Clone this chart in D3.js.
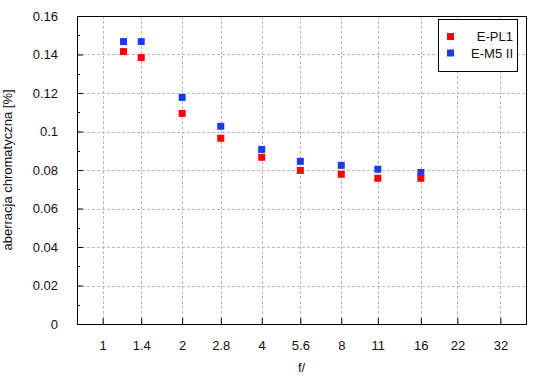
<!DOCTYPE html>
<html>
<head>
<meta charset="utf-8">
<script src="https://cdn.jsdelivr.net/npm/d3@7"></script>
<style>
  body { margin: 0; background: #fff; }
  text { font-family: "Liberation Sans", Arial, sans-serif; fill: #111; }
</style>
</head>
<body>
<div class="canvas"></div>
<script>
// data
const fStops = [1.2, 1.4, 2, 2.8, 4, 5.6, 8, 11, 16];
const eplValues = [0.1415, 0.1384, 0.1094, 0.0965, 0.0866, 0.0798, 0.0778, 0.0757, 0.0757];
const em5Values = [0.1467, 0.1467, 0.1177, 0.1027, 0.0907, 0.0845, 0.0824, 0.0804, 0.0787];
const seriesNames = ['E-PL1', 'E-M5 II'];
const seriesColors = ['#ff0000', '#1a3ce6'];
const xTicks = [1, 1.4, 2, 2.8, 4, 5.6, 8, 11, 16, 22, 32];
const yTicks = [0, 0.02, 0.04, 0.06, 0.08, 0.1, 0.12, 0.14, 0.16];
const yMinor = [0.01, 0.03, 0.05, 0.07, 0.09, 0.11, 0.13, 0.15];

const margin = { top: 16, right: 24, bottom: 56, left: 77 };
const graphWidth = 550 - margin.left - margin.right;
const graphHeight = 380 - margin.top - margin.bottom;

const svg = d3.select('.canvas')
  .append('svg')
  .attr('width', 550)
  .attr('height', 380);

const graph = svg.append('g')
  .attr('transform', `translate(${margin.left}, ${margin.top})`);

const x = d3.scaleLog().domain([0.8, 40]).range([0, graphWidth]);
const y = d3.scaleLinear().domain([0, 0.16]).range([graphHeight, 0]);

// grid
graph.append('g')
  .selectAll('line.gx')
  .data(xTicks)
  .enter().append('line')
    .attr('x1', d => Math.round(x(d)) + 0.5)
    .attr('x2', d => Math.round(x(d)) + 0.5)
    .attr('y1', 0)
    .attr('y2', graphHeight)
    .attr('stroke', '#bbb')
    .attr('stroke-dasharray', '3,2');

graph.append('g')
  .selectAll('line.gy')
  .data(yTicks.slice(1, -1))
  .enter().append('line')
    .attr('x1', 0)
    .attr('x2', graphWidth)
    .attr('y1', d => Math.round(y(d)) + 0.5)
    .attr('y2', d => Math.round(y(d)) + 0.5)
    .attr('stroke', '#bbb')
    .attr('stroke-dasharray', '3,2');

// axes (ticks pointing inward)
const xAxis = d3.axisBottom(x)
  .tickValues(xTicks)
  .tickFormat(d => d)
  .tickSizeInner(-6)
  .tickSizeOuter(0)
  .tickPadding(17);

const yAxis = d3.axisLeft(y)
  .tickValues(yTicks)
  .tickFormat(d => d)
  .tickSizeInner(-6)
  .tickSizeOuter(0)
  .tickPadding(19);

const xAxisGroup = graph.append('g')
  .attr('transform', `translate(0, ${graphHeight})`)
  .call(xAxis);

const yAxisGroup = graph.append('g')
  .call(yAxis);

[xAxisGroup, yAxisGroup].forEach(g => {
  g.select('.domain').remove();
  g.selectAll('line').attr('stroke', '#000');
  g.selectAll('text').style('font-size', '13px').attr('fill', '#111');
});

graph.append('g')
  .selectAll('line')
  .data(yMinor)
  .enter().append('line')
    .attr('x1', 0)
    .attr('x2', 3)
    .attr('y1', d => Math.round(y(d)) + 0.5)
    .attr('y2', d => Math.round(y(d)) + 0.5)
    .attr('stroke', '#000');

// border
graph.append('rect')
  .attr('x', 0.5)
  .attr('y', 0.5)
  .attr('width', graphWidth)
  .attr('height', graphHeight)
  .attr('fill', 'none')
  .attr('stroke', '#000');

// points: E-M5 II first, E-PL1 drawn on top
const series = [eplValues, em5Values];
[1, 0].forEach(s => {
  graph.append('g')
    .selectAll('rect')
    .data(series[s])
    .enter().append('rect')
      .attr('x', (d, i) => x(fStops[i]) - 3.5)
      .attr('y', d => y(d) - 3.5)
      .attr('width', 7)
      .attr('height', 7)
      .attr('fill', seriesColors[s]);
});

// legend
const legend = svg.append('g');
legend.append('rect')
  .attr('x', 438.5)
  .attr('y', 19.5)
  .attr('width', 79)
  .attr('height', 52)
  .attr('fill', '#fff')
  .attr('stroke', '#000');

seriesNames.forEach((name, i) => {
  legend.append('rect')
    .attr('x', 447)
    .attr('y', 33 + i * 16.5)
    .attr('width', 7)
    .attr('height', 7)
    .attr('fill', seriesColors[i]);
  legend.append('text')
    .attr('x', 513)
    .attr('y', 41 + i * 16.5)
    .attr('text-anchor', 'end')
    .style('font-size', '13px')
    .text(name);
});

// axis titles
svg.append('text')
  .attr('x', margin.left + graphWidth / 2 + 0)
  .attr('y', 372)
  .attr('text-anchor', 'middle')
  .style('font-size', '13px')
  .text('f/');

svg.append('text')
  .attr('transform', `translate(12, ${margin.top + graphHeight / 2}) rotate(-90)`)
  .attr('text-anchor', 'middle')
  .style('font-size', '13px')
  .text('aberracja chromatyczna [%]');
</script>
</body>
</html>
